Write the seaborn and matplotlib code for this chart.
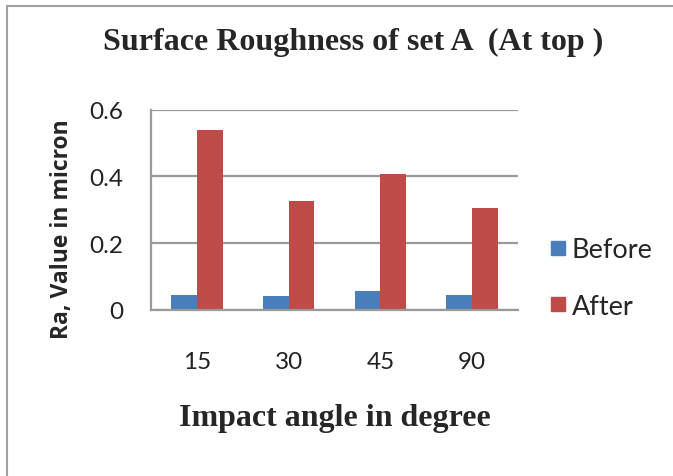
import matplotlib
matplotlib.use("Agg")
import matplotlib.pyplot as plt
from matplotlib.lines import Line2D
import seaborn as sns
import pandas as pd

angles = ["15", "30", "45", "90"]
before = [0.045, 0.040, 0.057, 0.045]
after = [0.540, 0.326, 0.408, 0.305]
series = ["Before", "After"]
colors = ["#4A7EBB", "#BE4B48"]
yticks = [0, 0.2, 0.4, 0.6]
ytick_labels = ["0", "0.2", "0.4", "0.6"]

df = pd.DataFrame({
    "angle": angles * 2,
    "value": before + after,
    "series": ["Before"] * len(angles) + ["After"] * len(angles),
})

sns.set_theme(style="white")
plt.rcParams["font.family"] = ["Lato", "DejaVu Sans"]

fig = plt.figure(figsize=(6.73, 4.77), dpi=100)
ax = fig.add_axes([0.2244, 0.3486, 0.5453, 0.4193])

sns.barplot(data=df, x="angle", y="value", hue="series", order=angles,
            hue_order=series, palette=colors, width=0.56, saturation=1,
            edgecolor="none", ax=ax, legend=False)

ax.set_ylim(0, 0.6)
ax.set_xlim(-0.5, len(angles) - 0.5)
ax.set_yticks(yticks)
ax.set_yticklabels(ytick_labels)
ax.yaxis.grid(True, color="#9a9a9a", linewidth=1.6)
ax.set_axisbelow(True)
for side in ["top", "right"]:
    ax.spines[side].set_visible(False)
for side in ["left", "bottom"]:
    ax.spines[side].set_color("#9a9a9a")
    ax.spines[side].set_linewidth(1.6)
ax.tick_params(axis="both", length=0, labelsize=17.5, colors="#222222")
ax.tick_params(axis="x", pad=30)
ax.tick_params(axis="y", pad=20)

ax.set_xlabel("Impact angle in degree", fontsize=23, fontweight="bold",
              family=["Liberation Serif"], labelpad=22)
ax.set_ylabel("Ra, Value in micron", fontsize=16.5, fontweight="bold",
              family=["Open Sans", "DejaVu Sans"])
ax.yaxis.set_label_coords(-0.21, 0.41)

fig.text(0.525, 0.912, "Surface Roughness of set A  (At top )", ha="center",
         va="center", fontsize=23, fontweight="bold",
         family=["Liberation Serif"])

handles = [Line2D([], [], marker="s", linestyle="none", markersize=10,
                  markerfacecolor=c, markeredgecolor=c) for c in colors]
fig.legend(handles, series, loc="center left", bbox_to_anchor=(0.775, 0.415),
           frameon=False, fontsize=19.5, handletextpad=0.05, labelspacing=1.15,
           handlelength=0.9)

# outer frame lines along the left and top edges
fig.add_artist(Line2D([0.011, 0.011], [0.0, 0.985], transform=fig.transFigure,
                      color="#a0a0a0", linewidth=1.5))
fig.add_artist(Line2D([0.011, 1.0], [0.985, 0.985], transform=fig.transFigure,
                      color="#a0a0a0", linewidth=1.5))

fig.savefig("out.png", dpi=100, facecolor="white")
